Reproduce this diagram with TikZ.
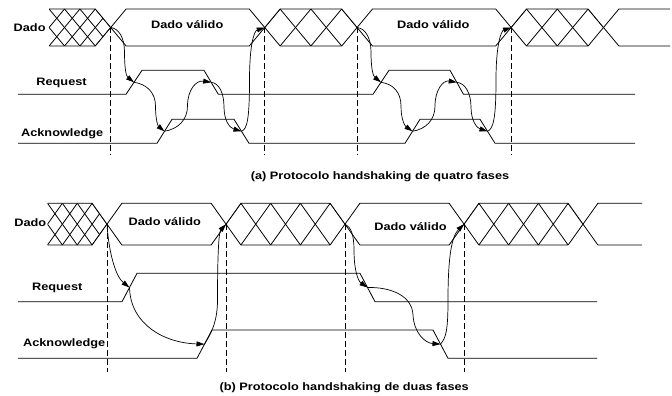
\documentclass[tikz,border=0pt]{standalone}
\usepackage{fontspec}
\setmainfont{Liberation Sans}[FakeStretch=1.18]
\usetikzlibrary{arrows.meta}
% #1=a (left crossing), #2=b (right crossing), #3=h, #4=yTop, #5=yBottom
\newcommand{\validbus}[5]{%
  \draw (#1,{(#4+#5)/2}) -- ({#1+#3},#4) -- ({#2-#3},#4) -- (#2,{(#4+#5)/2}) -- ({#2-#3},#5) -- ({#1+#3},#5) -- cycle;}
\newcommand{\sparsehatch}[5]{%
  \begin{scope}
    \clip (#1,{(#4+#5)/2}) -- ({#1+#3},#4) -- ({#2-#3},#4) -- (#2,{(#4+#5)/2}) -- ({#2-#3},#5) -- ({#1+#3},#5) -- cycle;
    \pgfmathtruncatemacro{\nv}{round((#2-#1)/(2*#3))}
    \foreach \k in {1,...,\nv}{%
      \pgfmathsetmacro{\vx}{#1+(2*\k-1)*#3}
      \draw (\vx,#4) -- ({\vx+2*#3},#5);
      \draw (\vx,#4) -- ({\vx-2*#3},#5);}
  \end{scope}
  \validbus{#1}{#2}{#3}{#4}{#5}}
\newcommand{\densehatch}[5]{%
  \begin{scope}
    \clip (#1,#4) -- ({#2-#3},#4) -- (#2,{(#4+#5)/2}) -- ({#2-#3},#5) -- (#1,#5) -- cycle;
    \foreach \k in {-2,...,6}{%
      \pgfmathsetmacro{\vx}{#1+\k*#3}
      \draw (\vx,#4) -- ({\vx+2*#3},#5);
      \draw (\vx,#4) -- ({\vx-2*#3},#5);}
  \end{scope}
  \draw (#1,#4) -- ({#2-#3},#4) -- (#2,{(#4+#5)/2}) -- ({#2-#3},#5) -- (#1,#5);}
\newcommand{\openbus}[5]{%
  \draw (#2,#4) -- ({#1+#3},#4) -- (#1,{(#4+#5)/2}) -- ({#1+#3},#5) -- (#2,#5);}
\begin{document}
\begin{tikzpicture}[x=1pt,y=-1pt,line width=0.8pt,
  dashline/.style={line width=0.7pt,dash pattern=on 6pt off 3pt},
  arr/.style={line width=0.7pt,-{Triangle[length=8pt,width=5pt]}},
  lbl/.style={font=\fontsize{10.8}{12}\selectfont\bfseries,inner sep=0pt,anchor=base west},
  captxt/.style={font=\fontsize{10.8}{12}\selectfont\bfseries,inner sep=0pt,anchor=base}]
\useasboundingbox (0,0) rectangle (672,396);

% ================= (a) four-phase =================
\densehatch{49.1}{110.7}{15.4}{9}{46}
\validbus{110.7}{264.7}{15.4}{9}{46}
\sparsehatch{264.7}{357.1}{15.4}{9}{46}
\validbus{357.1}{511.1}{15.4}{9}{46}
\sparsehatch{511.1}{603.5}{15.4}{9}{46}
\openbus{603.5}{670}{15.4}{9}{46}

\coordinate (dA0) at (110.7,27.5);
\coordinate (dA1) at (264.7,27.5);
\coordinate (dA2) at (357.1,27.5);
\coordinate (dA3) at (511.1,27.5);

\draw (18,94.3) -- (126,94.3) -- (142,70.3) -- (204,70.3) -- (218.3,94.3) -- (373,94.3)
      -- (389,70.3) -- (450,70.3) -- (463.5,94.3) -- (635,94.3);
\draw (18,143.3) -- (157,143.3) -- (172,119.3) -- (234,119.3) -- (249,143.3) -- (405,143.3)
      -- (420,119.3) -- (480,119.3) -- (495,143.3) -- (635,143.3);

\coordinate (rA1) at (134,82.3);
\coordinate (rfA1) at (211.15,82.3);
\coordinate (rA2) at (381,82.3);
\coordinate (rfA2) at (456.75,82.3);
\coordinate (aA1) at (164.5,131.3);
\coordinate (afA1) at (241.5,131.3);
\coordinate (aA2) at (412.5,131.3);
\coordinate (afA2) at (487.5,131.3);

\foreach \c in {dA0,dA1,dA2,dA3}
  \draw[dashline] (\c) -- ++(0,127.5);

\draw[arr] (dA0) .. controls (119,28.5) and (124.5,38) .. (124.5,52) .. controls (124.5,68) and (126,76) .. (rA1);
\draw[arr] (rA1) .. controls (146,84) and (155.5,92) .. (155.5,106) .. controls (155.5,120) and (158,126) .. (aA1);
\draw[arr] (aA1) .. controls (178,129) and (187.5,120) .. (187.5,106) .. controls (187.5,90) and (196,80) .. (rfA1);
\draw[arr] (rfA1) .. controls (219,83) and (224,93) .. (224,107) .. controls (224,121) and (230,128) .. (afA1);
\draw[arr] (afA1) .. controls (247,129) and (249.5,120) .. (249.5,80) .. controls (249.5,45) and (254,31) .. (dA1);

\draw[arr] (dA2) .. controls (365.4,28.5) and (371,38) .. (371,52) .. controls (371,68) and (373,76) .. (rA2);
\draw[arr] (rA2) .. controls (393,84) and (401,92) .. (401,106) .. controls (401,120) and (405,126) .. (aA2);
\draw[arr] (aA2) .. controls (426,129) and (435,120) .. (435,106) .. controls (435,90) and (443,80) .. (rfA2);
\draw[arr] (rfA2) .. controls (465,83) and (471,93) .. (471,107) .. controls (471,121) and (477,128) .. (afA2);
\draw[arr] (afA2) .. controls (493,129) and (496,120) .. (496,80) .. controls (496,45) and (501,31) .. (dA3);

\node[lbl] (dadoA) at (13.3,31.4) {Dado};
\node[lbl] (reqA) at (36,85) {Request};
\node[lbl] (ackA) at (20.7,136) {Acknowledge};
\node[lbl] (valA1) at (150.7,28.5) {Dado válido};
\node[lbl] (valA2) at (396.7,28.5) {Dado válido};
\node[captxt] (capA) at (380,179.5) {(a) Protocolo handshaking de quatro fases};

% ================= (b) two-phase =================
\densehatch{47.5}{107}{14.875}{203.3}{245}
\validbus{107}{226}{14.875}{203.3}{245}
\sparsehatch{226}{345}{14.875}{203.3}{245}
\validbus{345}{464}{14.875}{203.3}{245}
\sparsehatch{464}{583}{14.875}{203.3}{245}
\openbus{583}{642}{14.875}{203.3}{245}

\coordinate (dB0) at (107,224.15);
\coordinate (dB1) at (226,224.15);
\coordinate (dB2) at (345,224.15);
\coordinate (dB3) at (464,224.15);

\draw (18,301.7) -- (122,301.7) -- (137,273.3) -- (360,273.3) -- (375,301.7) -- (597,301.7);
\draw (18,358.3) -- (197,358.3) -- (212,330) -- (433,330) -- (448,358.3) -- (597,358.3);

\coordinate (rB1) at (129.5,287.5);
\coordinate (rfB1) at (367.5,287.5);
\coordinate (aB1) at (204.5,344.15);
\coordinate (afB1) at (440.5,344.15);

\foreach \c in {dB0,dB1,dB2,dB3}
  \draw[dashline] (\c) -- ++(0,147.5);

\draw[arr] (dB0) .. controls (108.5,250) and (115,276) .. (rB1);
\draw[arr] (rB1) .. controls (130.5,325) and (165,343) .. (aB1);
\draw[arr] (aB1) .. controls (209,336) and (217.5,325) .. (217.5,300) .. controls (217.5,250) and (219,232) .. (dB1);
\draw[arr] (dB2) .. controls (351,227) and (354,235) .. (354,250) .. controls (354,270) and (358,281) .. (rfB1);
\draw[arr] (rfB1) .. controls (390,287) and (412,295) .. (413,315) .. controls (414,333) and (425,343) .. (afB1);
\draw[arr] (afB1) .. controls (446,338) and (448,330) .. (448,300) .. controls (448,255) and (452,236) .. (dB3);

\node[lbl] (dadoB) at (14,226) {Dado};
\node[lbl] (reqB) at (31.7,290) {Request};
\node[lbl] (ackB) at (22.7,346.7) {Acknowledge};
\node[lbl] (valB1) at (128.3,225) {Dado válido};
\node[lbl] (valB2) at (374,230.7) {Dado válido};
\node[captxt] (capB) at (344.2,390.7) {(b) Protocolo handshaking de duas fases};
\end{tikzpicture}
\end{document}
